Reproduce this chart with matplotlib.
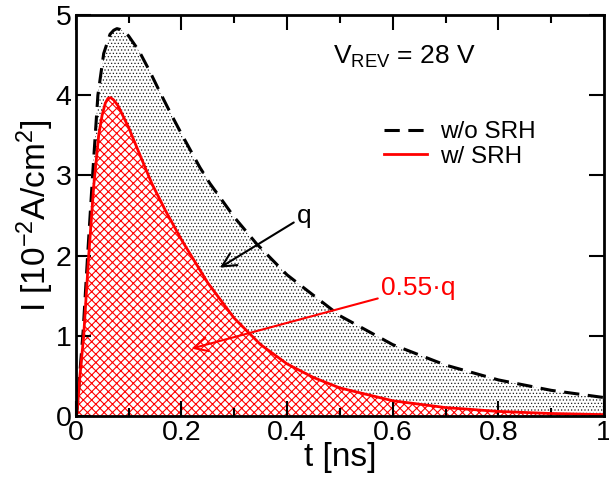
import matplotlib
matplotlib.use("Agg")
import matplotlib.pyplot as plt

# data
t_nosrh = [0.0, 0.003, 0.008, 0.014, 0.023, 0.032, 0.042, 0.053, 0.065, 0.072, 0.078, 0.084, 0.09, 0.1,
           0.12, 0.14, 0.16, 0.18, 0.2, 0.235, 0.254, 0.3, 0.342, 0.4, 0.5, 0.6,
           0.7, 0.8, 0.9, 1.0]
i_nosrh = [0.0, 0.1, 0.55, 1.05, 2.05, 3.0, 4.0, 4.52, 4.76, 4.81, 4.83, 4.82, 4.8, 4.74,
           4.55, 4.3, 4.03, 3.77, 3.52, 3.1, 2.9, 2.48, 2.15, 1.76, 1.25, 0.89,
           0.635, 0.45, 0.32, 0.23]

t_srh = [0.0, 0.003, 0.008, 0.015, 0.0245, 0.0295, 0.034, 0.0435, 0.05, 0.056, 0.061, 0.066, 0.072,
         0.08, 0.1, 0.12, 0.144, 0.17, 0.2, 0.25, 0.3, 0.35, 0.4, 0.45, 0.5,
         0.6, 0.7, 0.8, 0.9, 1.0]
i_srh = [0.0, 0.08, 0.5, 0.99, 1.99, 2.44, 2.86, 3.5, 3.75, 3.9, 3.96, 3.97, 3.94,
         3.87, 3.6, 3.28, 2.9, 2.56, 2.2, 1.66, 1.22, 0.89, 0.65, 0.48, 0.35,
         0.19, 0.105, 0.057, 0.031, 0.017]

plt.rcParams['font.family'] = ['Liberation Sans', 'DejaVu Sans']
plt.rcParams['mathtext.fontset'] = 'custom'
plt.rcParams['mathtext.rm'] = 'Liberation Sans'
plt.rcParams['mathtext.it'] = 'Liberation Sans:italic'

fig = plt.figure(figsize=(6.09, 4.84), dpi=100)
ax = fig.add_axes([0.1243, 0.1405, 0.8675, 0.8285])

# shaded areas: dots under the w/o SRH curve, red cross hatch under the w/ SRH curve
plt.rcParams['hatch.linewidth'] = 0.5
ax.fill_between(t_nosrh, i_nosrh, 0, facecolor='white', edgecolor='#202020',
                hatch='.....', linewidth=0)
plt.rcParams['hatch.linewidth'] = 0.8
ax.fill_between(t_srh, i_srh, 0, facecolor='white', edgecolor='red',
                hatch='xxxx', linewidth=0)

l1, = ax.plot(t_nosrh, i_nosrh, color='black', lw=2.2, dashes=(5, 2.8), label='w/o SRH')
l2, = ax.plot(t_srh, i_srh, color='red', lw=2.0, label='w/ SRH')

ax.set_xlim(0, 1)
ax.set_ylim(0, 5)
ax.set_xticks([0, 0.2, 0.4, 0.6, 0.8, 1.0])
ax.set_xticklabels(['0', '0.2', '0.4', '0.6', '0.8', '1'])
ax.set_xticks([0.1, 0.3, 0.5, 0.7, 0.9], minor=True)
ax.set_yticks([0, 1, 2, 3, 4, 5])
ax.tick_params(which='both', direction='in', top=True, right=True, labelsize=20.5, width=1.5, pad=3)
ax.tick_params(which='major', length=11)
ax.tick_params(which='minor', length=6)
for s in ax.spines.values():
    s.set_linewidth(2)

ax.set_xlabel('t [ns]', fontsize=24, labelpad=-3)
ax.set_ylabel('I [10$^{-2}$A/cm$^{2}$]', fontsize=24, labelpad=0)

ax.legend(handles=[l1, l2], loc='upper left', bbox_to_anchor=(0.56, 0.765), frameon=False,
          fontsize=17.5, handlelength=1.8, handletextpad=0.5, labelspacing=0.1, borderpad=0)

ax.text(0.487, 4.48, 'V$_{\\mathregular{REV}}$ = 28 V', fontsize=19, va='center', ha='left')

ax.annotate('q', xy=(0.273, 1.85), xytext=(0.418, 2.49), fontsize=19, va='center', ha='left',
            arrowprops=dict(arrowstyle='->', color='black', lw=1.5, mutation_scale=25,
                            shrinkA=0, shrinkB=0))
ax.annotate('0.55\u00b7q', xy=(0.219, 0.84), xytext=(0.577, 1.6), fontsize=19, color='red',
            va='center', ha='left',
            arrowprops=dict(arrowstyle='->', color='red', lw=1.5, mutation_scale=25,
                            shrinkA=0, shrinkB=0))

fig.savefig('out.png', dpi=100)
